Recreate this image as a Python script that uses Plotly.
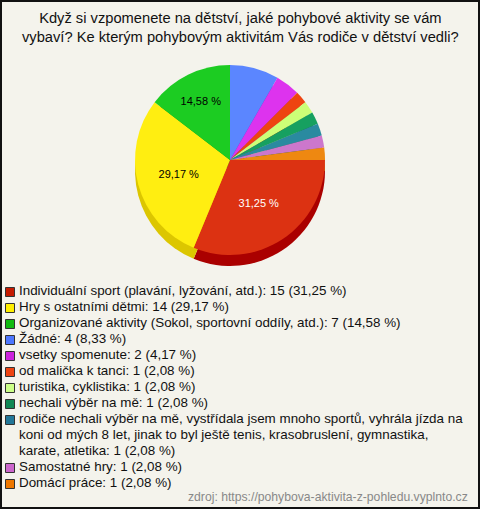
import textwrap
import plotly.graph_objects as go

# ---- data ----
categories = [
    "Individuální sport (plavání, lyžování, atd.)",
    "Hry s ostatními dětmi",
    "Organizované aktivity (Sokol, sportovní oddíly, atd.)",
    "Žádné",
    "vsetky spomenute",
    "od malička k tanci",
    "turistika, cyklistika",
    "nechali výběr na mě",
    "rodiče nechali výběr na mě, vystřídala jsem mnoho sportů, vyhrála jízda na koni od mých 8 let, jinak to byl ještě tenis, krasobruslení, gymnastika, karate, atletika",
    "Samostatné hry",
    "Domácí práce",
]
values = [15, 14, 7, 4, 2, 1, 1, 1, 1, 1, 1]

title_text = ("Když si vzpomenete na dětství, jaké pohybové aktivity se vám<br>"
              "vybaví? Ke kterým pohybovým aktivitám Vás rodiče v dětství vedli?")
source_text = "zdroj: https://pohybova-aktivita-z-pohledu.vyplnto.cz"

# ---- styles ----
face_colors = ["#dc3212", "#ffee11", "#1ccc22", "#5b86ff", "#dd33ee", "#ee4411",
               "#ccff77", "#16a060", "#2a8aa0", "#cc77cc", "#ee8811"]
side_colors = ["#aa0000", "#dcc600", "#119911", "#3355cc", "#aa22bb", "#bb3300",
               "#99cc55", "#0f7040", "#1c6070", "#995599", "#bb6600"]
swatch_colors = ["#c41a00", "#ffee00", "#11bb11", "#4d77ff", "#cc22dd", "#ee4411",
                 "#ccff88", "#118855", "#227799", "#cc66cc", "#ee7700"]

W, H = 480, 509
FONT = "Liberation Sans, Arial"
total = sum(values)
pcts = [v / total * 100 for v in values]
fmt = lambda p: f"{p:.2f}".replace(".", ",") + " %"
slice_text = [fmt(p) if p >= 10 else "" for p in pcts]
text_colors = ["white" if i == 0 else "black" for i in range(len(values))]

# pie geometry (px)
cx, cy, d, depth = 230, 160, 190, 11
def dom(shift):
    return dict(x=[(cx - d / 2) / W, (cx + d / 2) / W],
                y=[1 - (cy + shift + d / 2) / H, 1 - (cy + shift - d / 2) / H])

fig = go.Figure()

# side / depth layer
fig.add_trace(go.Pie(
    labels=categories, values=values, sort=False, direction="clockwise",
    rotation=90, marker=dict(colors=side_colors, line=dict(width=0)),
    textinfo="none", hoverinfo="skip", showlegend=False, domain=dom(depth),
))
# top face
fig.add_trace(go.Pie(
    labels=categories, values=values, sort=False, direction="clockwise",
    rotation=90, marker=dict(colors=face_colors, line=dict(width=0)),
    text=slice_text, texttemplate="%{text}", textposition="inside",
    insidetextorientation="horizontal",
    insidetextfont=dict(family=FONT, size=11, color=text_colors),
    hoverinfo="label+value+percent", showlegend=False, domain=dom(0),
))

# ---- legend built as a scatter on hidden axes ----
lines, marker_rows, row = [], [], 0
for cat, v, p in zip(categories, values, pcts):
    label = f"{cat}: {v} ({fmt(p)})"
    wrapped = textwrap.wrap(label, width=75)
    marker_rows.append(row)
    for ln in wrapped:
        lines.append((row, ln))
        row += 1

fig.add_trace(go.Scatter(
    x=[10] * len(marker_rows), y=marker_rows, mode="markers",
    marker=dict(symbol="square", size=9, color=swatch_colors,
                line=dict(color="#333333", width=1)),
    hoverinfo="skip", showlegend=False, cliponaxis=False,
))
fig.add_trace(go.Scatter(
    x=[19] * len(lines), y=[r for r, _ in lines], mode="text",
    text=[t for _, t in lines], textposition="middle right",
    textfont=dict(family=FONT, size=13.4, color="#111111"),
    hoverinfo="skip", showlegend=False, cliponaxis=False,
))

n_rows = row
fig.update_xaxes(range=[0, W], domain=[0, 1], visible=False, fixedrange=True)
fig.update_yaxes(range=[n_rows - 0.5, -0.5], domain=[1 - 492 / H, 1 - 284 / H],
                 visible=False, fixedrange=True)

fig.update_layout(
    width=W, height=H,
    margin=dict(l=0, r=0, t=0, b=0),
    paper_bgcolor="#f4f3ec", plot_bgcolor="rgba(0,0,0,0)",
    font=dict(family=FONT),
    showlegend=False,
    annotations=[
        dict(text=title_text, xref="paper", yref="paper", x=0.5, y=1 - 28 / H,
             xanchor="center", yanchor="middle", showarrow=False,
             font=dict(family=FONT, size=14.7, color="#111111")),
        dict(text=source_text, xref="paper", yref="paper",
             x=1 - 10 / W, y=1 - 497 / H, xanchor="right", yanchor="middle",
             showarrow=False, font=dict(family=FONT, size=12.2, color="#888888")),
    ],
    shapes=[dict(type="rect", xref="paper", yref="paper",
                 x0=1 / W, x1=1 - 1 / W, y0=1 / H, y1=1 - 1 / H,
                 line=dict(color="#111111", width=2), layer="above")],
)

fig.write_html("out.html", config={"displayModeBar": False},
               post_script="document.body.style.margin='0';")
